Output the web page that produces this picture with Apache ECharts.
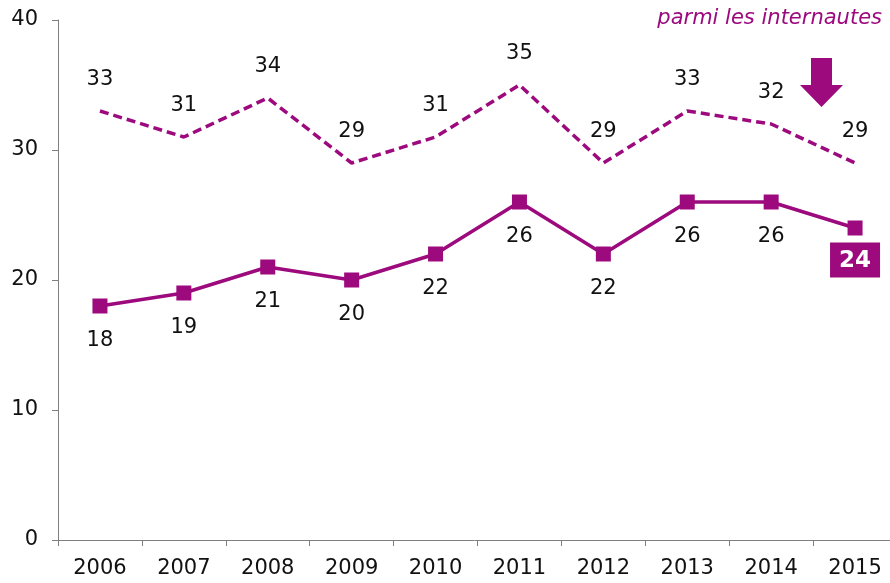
<!DOCTYPE html>
<html>
<head>
<meta charset="utf-8">
<script src="https://cdn.jsdelivr.net/npm/echarts@6/dist/echarts.min.js"></script>
<style>
  html, body { margin: 0; padding: 0; background: #fff; }
  #chart { width: 890px; height: 583px; }
</style>
</head>
<body>
<div id="chart"></div>
<script>
// Years on the horizontal axis
const years = ['2006', '2007', '2008', '2009', '2010', '2011', '2012', '2013', '2014', '2015'];
// Share among internet users (dashed line)
const internautes = [33, 31, 34, 29, 31, 35, 29, 33, 32, 29];
// Share among the whole population (solid line with markers)
const ensemble = [18, 19, 21, 20, 22, 26, 22, 26, 26, 24];
// Value axis ticks
const yTicks = [0, 10, 20, 30, 40];

const PURPLE = '#9c0a7d';
const FONT = '"DejaVu Sans", Verdana, sans-serif';

const chart = echarts.init(document.getElementById('chart'));

const lastIdx = ensemble.length - 1;
const ensembleData = ensemble.map((v, i) => {
  if (i !== lastIdx) return v;
  return {
    value: v,
    label: {
      show: true,
      position: 'bottom',
      distance: 7,
      color: '#fff',
      fontWeight: 'bold',
      fontSize: 23,
      fontFamily: FONT,
      backgroundColor: PURPLE,
      padding: [7, 9, 5, 9]
    }
  };
});

chart.setOption({
  animation: false,
  backgroundColor: '#fff',
  grid: {
    left: 58, width: 839, top: 20, bottom: 43,
    containLabel: false,
    outerBoundsMode: 'none'
  },
  xAxis: {
    type: 'category',
    data: years,
    boundaryGap: true,
    axisLine: { lineStyle: { color: '#7f7f7f', width: 1 } },
    axisTick: { show: true, length: 6, lineStyle: { color: '#7f7f7f' } },
    axisLabel: { color: '#111', fontSize: 21, fontFamily: FONT, margin: 18 }
  },
  yAxis: {
    type: 'value',
    min: yTicks[0],
    max: yTicks[yTicks.length - 1],
    interval: 10,
    axisLine: { show: true, lineStyle: { color: '#7f7f7f', width: 1 } },
    axisTick: { show: true, length: 6, lineStyle: { color: '#7f7f7f' } },
    splitLine: { show: false },
    axisLabel: { color: '#111', fontSize: 21, fontFamily: FONT, margin: 20 }
  },
  series: [
    {
      name: 'parmi les internautes',
      type: 'line',
      data: internautes,
      symbol: 'circle',
      symbolSize: 1,
      showSymbol: true,
      itemStyle: { color: 'rgba(0,0,0,0)' },
      lineStyle: { color: PURPLE, width: 3.5, type: [9, 5] },
      label: {
        show: true,
        position: 'top',
        distance: 20,
        color: '#111',
        fontSize: 21,
        fontFamily: FONT
      }
    },
    {
      name: 'ensemble',
      type: 'line',
      data: ensembleData,
      symbol: 'rect',
      symbolSize: 15,
      itemStyle: { color: PURPLE },
      lineStyle: { color: PURPLE, width: 3.5 },
      label: {
        show: true,
        position: 'bottom',
        distance: 17,
        color: '#111',
        fontSize: 21,
        fontFamily: FONT
      }
    }
  ],
  graphic: [
    {
      type: 'text',
      right: 8,
      top: 8,
      style: {
        text: 'parmi les internautes',
        fill: PURPLE,
        font: 'italic 21px ' + FONT
      }
    },
    {
      // downward block arrow next to the last dashed point
      type: 'polygon',
      shape: {
        points: [[811, 58], [832, 58], [832, 85], [843, 85], [821.5, 107], [800, 85], [811, 85]]
      },
      style: { fill: PURPLE }
    }
  ]
});
</script>
</body>
</html>
